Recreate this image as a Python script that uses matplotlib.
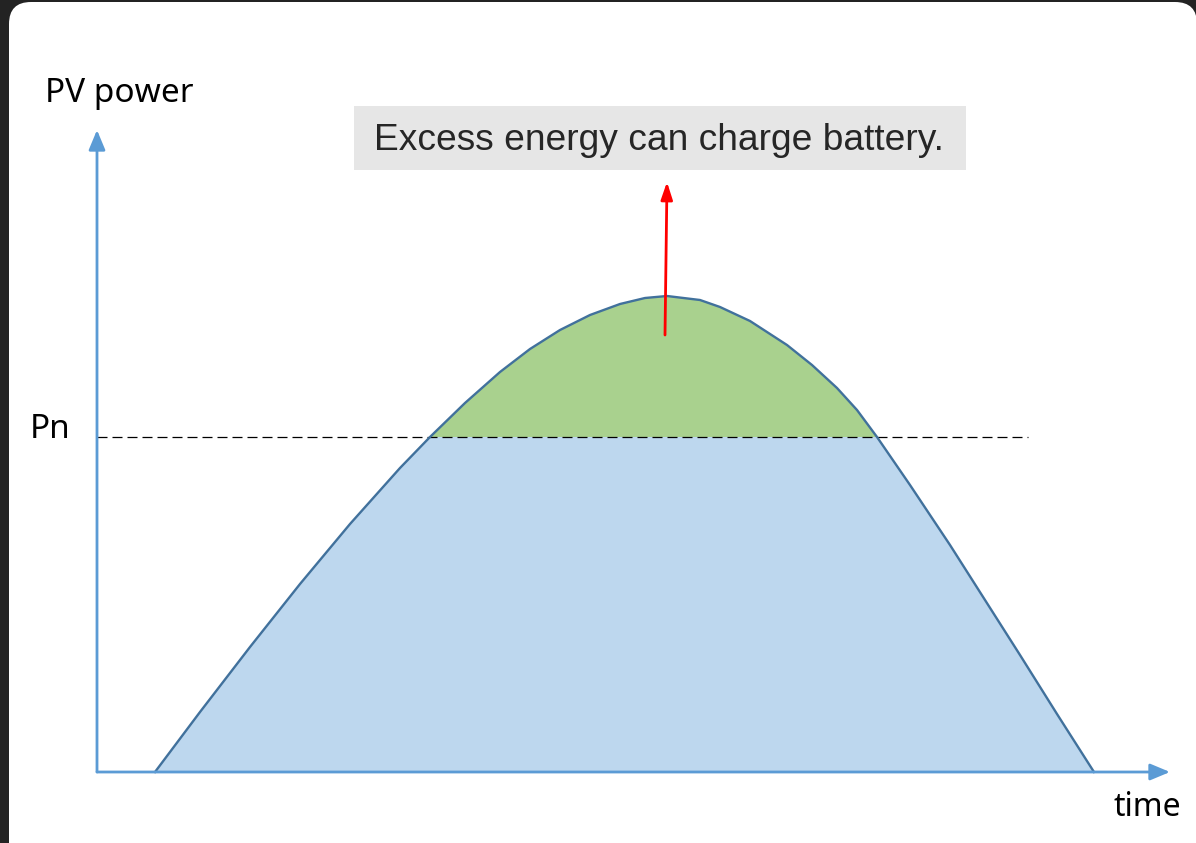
import matplotlib
matplotlib.use("Agg")
import matplotlib.pyplot as plt
from matplotlib.patches import FancyBboxPatch, Rectangle, Polygon

# PV output over the day (arbitrary units)
time = [0.58, 1.03, 1.53, 2.03, 2.53, 3.03, 3.33, 3.68, 4.03, 4.33, 4.63,
        4.93, 5.23, 5.48, 5.70, 6.03, 6.23, 6.53, 6.90, 7.15, 7.40, 7.60,
        7.80, 8.13, 8.53, 8.88, 9.23, 9.60, 9.97]
power = [0.00, 0.60, 1.25, 1.88, 2.48, 3.04, 3.35, 3.69, 4.00, 4.23, 4.42,
         4.57, 4.68, 4.74, 4.76, 4.72, 4.65, 4.51, 4.27, 4.07, 3.84, 3.62,
         3.35, 2.87, 2.27, 1.72, 1.17, 0.58, 0.00]
p_rated = 3.35          # Pn
dash_end = 9.31         # end of Pn reference line
y_label = "PV power"
x_label = "time"
pn_label = "Pn"
note = "Excess energy can charge battery."

W, H = 1196, 843
fig = plt.figure(figsize=(W / 100, H / 100), dpi=100)
fig.patch.set_facecolor("#232323")

# white rounded card
bg = fig.add_axes([0, 0, 1, 1])
bg.set_xlim(0, W)
bg.set_ylim(H, 0)
bg.axis("off")
bg.add_patch(FancyBboxPatch((9, 2), W - 8, H + 30,
                            boxstyle="round,pad=0,rounding_size=22",
                            fc="white", ec="none"))

# main drawing area: origin of the axes at px (97, 772), 100 px per unit
ax = fig.add_axes([0, 0, 1, 1])
ax.set_xlim(-0.97, (W - 97) / 100)
ax.set_ylim(-(H - 772) / 100, 7.72)
ax.axis("off")
ax.patch.set_alpha(0)

pts = [(time[0], 0)] + list(zip(time, power)) + [(time[-1], 0)]
blue = Polygon(pts, closed=True, fc="#BDD7EE", ec="none", zorder=1)
ax.add_patch(blue)
green = Polygon(pts, closed=True, fc="#A9D18E", ec="none", zorder=2)
ax.add_patch(green)
clip = Rectangle((-1, p_rated), 20, 10, transform=ax.transData)
green.set_clip_path(clip)

ax.plot(time, power, color="#41719C", lw=1.7, zorder=4,
        solid_joinstyle="round")

# Pn reference line
ax.plot([0, dash_end], [p_rated, p_rated], color="black", lw=0.9,
        dashes=(8, 4), zorder=3)

axis_col = "#5B9BD5"
ax.annotate("", xy=(0, 6.42), xytext=(0, 0),
            arrowprops=dict(arrowstyle="-|>,head_width=0.5,head_length=1.2",
                            color=axis_col, lw=2, shrinkA=0, shrinkB=0),
            zorder=5)
ax.annotate("", xy=(10.73, 0), xytext=(0, 0),
            arrowprops=dict(arrowstyle="-|>,head_width=0.5,head_length=1.2",
                            color=axis_col, lw=2, shrinkA=0, shrinkB=0),
            zorder=5)

# red arrow from the peak area to the note
ax.annotate("", xy=(5.70, 5.90), xytext=(5.68, 4.37),
            arrowprops=dict(arrowstyle="-|>,head_width=0.35,head_length=1.05",
                            color="#FF0000", lw=2, shrinkA=0, shrinkB=0),
            zorder=6)

ax.text(-0.52, 6.79, y_label, fontsize=24, family="Noto Sans",
        ha="left", va="center", color="black")
ax.text(-0.67, p_rated + 0.07, pn_label, fontsize=24, family="Noto Sans",
        ha="left", va="center", color="black")
ax.text(10.17, -0.35, x_label, fontsize=23, family="Noto Sans",
        ha="left", va="center", color="black")

ax.add_patch(Rectangle((2.57, 6.02), 6.12, 0.64, fc="#E6E6E6", ec="none",
                       zorder=3))
ax.text(5.62, 6.32, note, fontsize=26.7, family="Liberation Sans",
        ha="center", va="center", color="#262626", zorder=4)

fig.savefig("out.png", dpi=100, facecolor=fig.get_facecolor())
